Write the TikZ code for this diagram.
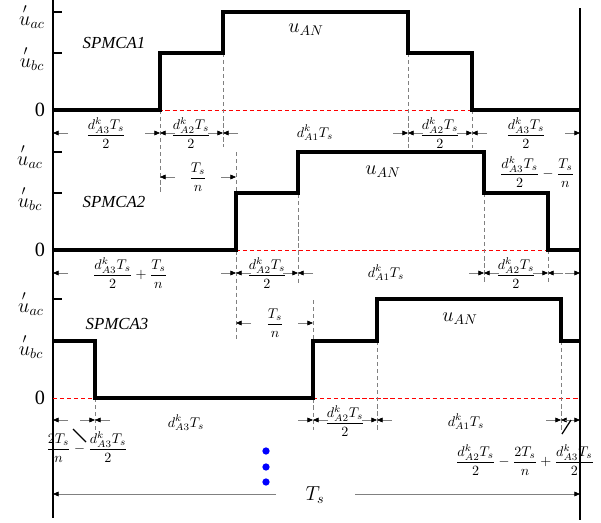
\documentclass[tikz,border=0pt]{standalone}
\usepackage{amsmath,amssymb}
\usepackage{fontspec}
\setmainfont{Liberation Serif}
\usepackage{tikz}
\usetikzlibrary{arrows.meta}

\begin{document}
\begin{tikzpicture}[x=0.025cm, y=-0.025cm,
    wave/.style={line width=2.8pt, line join=miter},
    frame/.style={line width=1.1pt},
    zeroline/.style={red, densely dashed, line width=0.4pt},
    guide/.style={gray, densely dashed, line width=0.4pt},
    dimstub/.style={gray, line width=0.5pt,
      -{Triangle[length=4pt,width=3.4pt,color=black]}},
    lev/.style={font=\Large, inner sep=0pt},
    tag/.style={font=\large\itshape}]
    \useasboundingbox (0,0) rectangle (601,522);

    % 坐标轴
    \coordinate (axT) at (53,0);
    \coordinate (axB) at (53,518);
    \coordinate (rT) at (580,8);
    \coordinate (rB) at (580,520);
    \draw[frame] (axT) -- (axB);
    \draw[frame] (rT) -- (rB);

    % SPMCA1
    \begin{scope}[shift={(0,110)}]
      \draw[zeroline] (53,0) -- (580,0);
      \draw[frame] (53,-98) -- (62,-98);
      \draw[frame] (53,-57) -- (62,-57);
      \node[lev] (ac1) at (32,-94) {$\overset{\prime}{u}_{ac}$};
      \node[lev] (bc1) at (32,-52) {$\overset{\prime}{u}_{bc}$};
      \node[font=\Large] (z1) at (40,0) {0};
      \node[tag] (n1) at (114,-67) {SPMCA1};
      \node[font=\Large] (u1) at (306,-80) {$u_{AN}$};

      % 虚线
      \draw[guide] (160,0) -- (160,82);
      \draw[guide] (223,-57) -- (223,37);
      \draw[guide] (408,-57) -- (408,38);
      \draw[guide] (472,0) -- (472,38);

      % 波形
      \draw[wave] (53,0) -- (160,0) -- (160,-57) -- (223,-57) -- (223,-98)
      -- (408,-98) -- (408,-57) -- (472,-57) -- (472,0) -- (580,0);

      % 时间间隔
      \foreach \a/\b in {53/160,160/223,223/408,408/472,472/580}{
        \draw[dimstub] (\a+15,23) -- (\a,23);
        \draw[dimstub] (\b-15,23) -- (\b,23);
      }
      \node (d11) at (106,23) {$\dfrac{d^{k}_{A3}T_s}{2}$};
      \node (d12) at (191,23) {$\dfrac{d^{k}_{A2}T_s}{2}$};
      \node (d13) at (315,23) {$d^{k}_{A1}T_s$};
      \node (d14) at (440,23) {$\dfrac{d^{k}_{A2}T_s}{2}$};
      \node (d15) at (526,23) {$\dfrac{d^{k}_{A3}T_s}{2}$};

      % T_s/n
      \draw[dimstub] (175,67) -- (160,67);
      \draw[dimstub] (221,67) -- (236,67);
      \node (t1) at (198,67) {$\dfrac{T_s}{n}$};
    \end{scope}

    % SPMCA2
    \begin{scope}[shift={(0,250)}]
      \draw[zeroline] (53,0) -- (580,0);
      \draw[frame] (53,-98) -- (62,-98);
      \draw[frame] (53,-57) -- (62,-57);
      \node[lev] (ac2) at (30,-94) {$\overset{\prime}{u}_{ac}$};
      \node[lev] (bc2) at (30,-52) {$\overset{\prime}{u}_{bc}$};
      \node[font=\Large] (z2) at (40,0) {0};
      \node[tag] (n2) at (114,-48) {SPMCA2};
      \node[font=\Large] (u2) at (383,-78) {$u_{AN}$};
      \node (e2) at (537,-78) {$\dfrac{d^{k}_{A3}T_s}{2}-\dfrac{T_s}{n}$};

      % 虚线
      \draw[guide] (236,-98) -- (236,90);
      \draw[guide] (298,-98) -- (298,35);
      \draw[guide] (484,-57) -- (484,32);
      \draw[guide] (548,0) -- (548,32);

      % 波形
      \draw[wave] (53,0) -- (236,0) -- (236,-57) -- (298,-57) -- (298,-98)
      -- (484,-98) -- (484,-57) -- (548,-57) -- (548,0) -- (580,0);

      % 时间间隔
      \foreach \a/\b in {53/236,236/298,298/484,484/548,548/580}{
        \draw[dimstub] (\a+15,23) -- (\a,23);
        \draw[dimstub] (\b-15,23) -- (\b,23);
      }
      \node (d21) at (130,23) {$\dfrac{d^{k}_{A3}T_s}{2}+\dfrac{T_s}{n}$};
      \node (d22) at (267,23) {$\dfrac{d^{k}_{A2}T_s}{2}$};
      \node (d23) at (386,23) {$d^{k}_{A1}T_s$};
      \node (d24) at (516,23) {$\dfrac{d^{k}_{A2}T_s}{2}$};
    \end{scope}

    % SPMCA3
    \begin{scope}[shift={(0,398)}]
      \draw[zeroline] (53,0) -- (580,0);
      \draw[frame] (53,-99) -- (62,-99);
      \draw[frame] (53,-57) -- (62,-57);
      \node[lev] (ac3) at (31,-95) {$\overset{\prime}{u}_{ac}$};
      \node[lev] (bc3) at (31,-52) {$\overset{\prime}{u}_{bc}$};
      \node[font=\Large] (z3) at (40,0) {0};
      \node[tag] (n3) at (117,-74) {SPMCA3};
      \node[font=\Large] (u3) at (460,-79) {$u_{AN}$};

      % 虚线
      \draw[guide] (95,0) -- (95,32);
      \draw[guide] (313,-98) -- (313,32);
      \draw[guide] (377,-57) -- (377,32);
      \draw[guide] (561,-57) -- (561,32);

      % 波形
      \draw[wave] (53,-57) -- (95,-57) -- (95,0) -- (313,0) -- (313,-57)
      -- (377,-57) -- (377,-99) -- (561,-99) -- (561,-57) -- (580,-57);

      % T_s/n
      \draw[dimstub] (251,-75) -- (236,-75);
      \draw[dimstub] (298,-75) -- (313,-75);
      \node (t3) at (275,-75) {$\dfrac{T_s}{n}$};

      % 时间间隔
      \foreach \a/\b in {53/95,95/313,313/377,377/561,561/580}{
        \draw[dimstub] (\a+15,22) -- (\a,22);
        \draw[dimstub] (\b-15,22) -- (\b,22);
      }
      \node (d32) at (186,25) {$d^{k}_{A3}T_s$};
      \node (d33) at (345,23) {$\dfrac{d^{k}_{A2}T_s}{2}$};
      \node (d34) at (466,24) {$d^{k}_{A1}T_s$};

      % 引线与标注
      \node (d31) at (87,49) {$\dfrac{2T_s}{n}-\dfrac{d^{k}_{A3}T_s}{2}$};
      \node (d35) at (525,62)
      {$\dfrac{d^{k}_{A2}T_s}{2}-\dfrac{2T_s}{n}+\dfrac{d^{k}_{A3}T_s}{2}$};
      \draw[line width=0.9pt] (73,31) -- (86,44);
      \draw[line width=0.9pt] (562,36) -- (571,22);
    \end{scope}

    % 省略号
    \foreach \y in {451,467,482}
      \fill[blue] (266,\y) circle (2.6pt);

    % 周期 T_s
    \node[font=\Large] (Ts) at (315,495) {$T_s$};
    \coordinate (tsL) at (53,494);
    \coordinate (tsR) at (580,494);
    \draw[dimstub] (276,494) -- (tsL);
    \draw[dimstub] (355,494) -- (tsR);
  \end{tikzpicture}
\end{document}
